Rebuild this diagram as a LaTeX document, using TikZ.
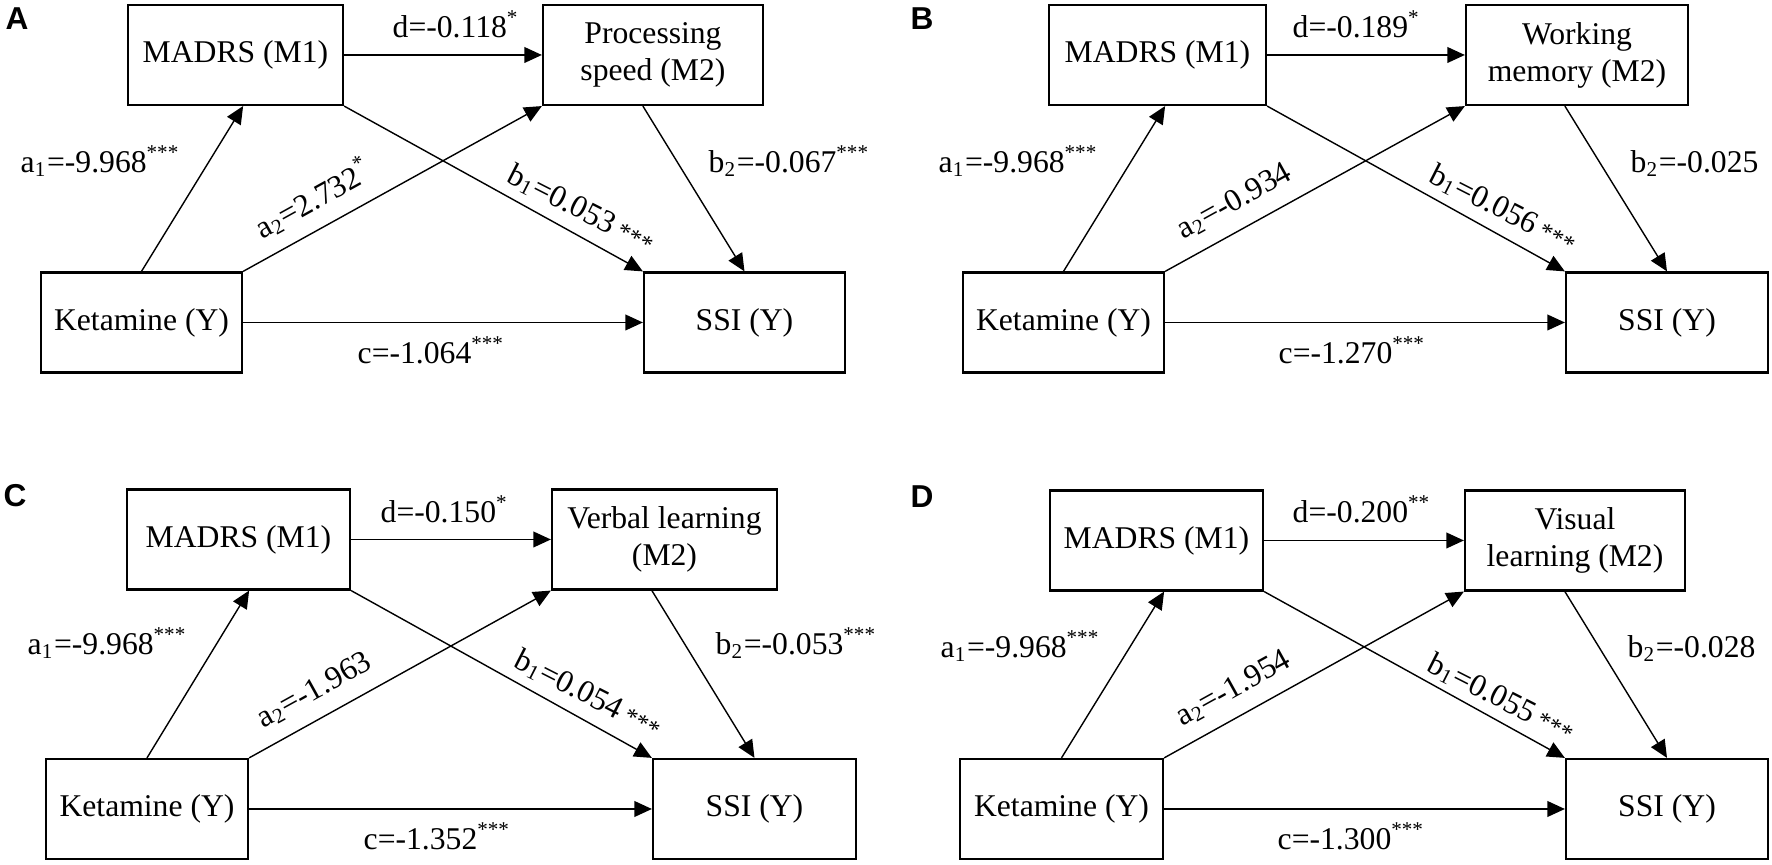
\documentclass[tikz,border=0pt]{standalone}
\usepackage{fontspec}
\setmainfont{Liberation Serif}
\setsansfont{Liberation Sans}
\usetikzlibrary{arrows.meta,calc}

\tikzset{
    box/.style={draw, line width=0.6pt, minimum height=1cm, inner sep=0pt, align=center, font=\fontsize{9}{10.5}\selectfont},
    coef/.style={inner sep=0pt, anchor=base west, font=\fontsize{9}{10.5}\selectfont},
    link/.style={line width=0.4pt, -{Triangle[length=5pt,width=4.5pt]}},
    panel/.style={inner sep=0pt, font=\sffamily\bfseries\fontsize{9}{10}\selectfont}
}

\begin{document}
\begin{tikzpicture}[x=0.01cm, y=-0.01cm]
        \useasboundingbox (0,0) rectangle (1772,865);

        % Panel letters
        \node[panel] (pA) at (17,19) {A};
        \node[panel] (pB) at (922,19) {B};
        \node[panel] (pC) at (15,496) {C};
        \node[panel] (pD) at (922,497) {D};

        % Boxes of panel A
        \node[box, minimum width=2.15cm] (madA) at (235.5,55) {MADRS (M1)};
        \node[box, minimum width=2.20cm] (medA) at (653,55) {Processing\\speed (M2)};
        \node[box, minimum width=2.01cm] (ketA) at (141.5,322.5) {Ketamine (Y)};
        \node[box, minimum width=2.01cm] (ssiA) at (744.5,322.5) {SSI (Y)};

        % Boxes of panel B
        \node[box, minimum width=2.17cm] (madB) at (1157.5,55) {MADRS (M1)};
        \node[box, minimum width=2.22cm] (medB) at (1577,55) {Working\\memory (M2)};
        \node[box, minimum width=2.01cm] (ketB) at (1063.5,322.5) {Ketamine (Y)};
        \node[box, minimum width=2.02cm] (ssiB) at (1667,322.5) {SSI (Y)};

        % Boxes of panel C
        \node[box, minimum width=2.23cm] (madC) at (238.5,539.5) {MADRS (M1)};
        \node[box, minimum width=2.25cm] (medC) at (664.5,539.5) {Verbal learning\\(M2)};
        \node[box, minimum width=2.02cm] (ketC) at (147,809) {Ketamine (Y)};
        \node[box, minimum width=2.03cm] (ssiC) at (754.5,809) {SSI (Y)};

        % Boxes of panel D
        \node[box, minimum width=2.13cm] (madD) at (1156.5,540.5) {MADRS (M1)};
        \node[box, minimum width=2.20cm] (medD) at (1575,540.5) {Visual\\learning (M2)};
        \node[box, minimum width=2.03cm] (ketD) at (1061.5,809) {Ketamine (Y)};
        \node[box, minimum width=2.02cm] (ssiD) at (1667,809) {SSI (Y)};

        % Paths between the boxes
        \foreach \p in {A,B,C,D} {
            \draw[link] (ket\p.north) -- (mad\p.south -| ket\p.east);
            \draw[link] (ket\p.north east) -- (med\p.south west);
            \draw[link] (mad\p.east) -- (med\p.west);
            \draw[link] (mad\p.south east) -- (ssi\p.north west);
            \draw[link] (med\p.south -| ssi\p.west) -- (ssi\p.north);
            \draw[link] (ket\p.east) -- (ssi\p.west);
        }

        % Coefficients of panel A
        \node[coef] (dA) at (392,38) {d=-0.118\textsuperscript{*}};
        \node[coef] (a1A) at (20,173) {a\textsubscript{1}=-9.968\textsuperscript{***}};
        \node[coef, rotate=29] (a2A) at (262,240) {a\textsubscript{2}=2.732\textsuperscript{*}};
        \node[coef, rotate=-27] (b1A) at (505,181) {b\textsubscript{1}=0.053\,{\scriptsize ***}};
        \node[coef] (b2A) at (708,173) {b\textsubscript{2}=-0.067\textsuperscript{***}};
        \node[coef] (cA) at (357,364) {c=-1.064\textsuperscript{***}};

        % Coefficients of panel B
        \node[coef] (dB) at (1292,38) {d=-0.189\textsuperscript{*}};
        \node[coef] (a1B) at (938,173) {a\textsubscript{1}=-9.968\textsuperscript{***}};
        \node[coef, rotate=29] (a2B) at (1183,240) {a\textsubscript{2}=-0.934};
        \node[coef, rotate=-27] (b1B) at (1427,181) {b\textsubscript{1}=0.056\,{\scriptsize ***}};
        \node[coef] (b2B) at (1630,173) {b\textsubscript{2}=-0.025};
        \node[coef] (cB) at (1278,364) {c=-1.270\textsuperscript{***}};

        % Coefficients of panel C
        \node[coef] (dC) at (380,523) {d=-0.150\textsuperscript{*}};
        \node[coef] (a1C) at (27,655) {a\textsubscript{1}=-9.968\textsuperscript{***}};
        \node[coef, rotate=29] (a2C) at (263,729) {a\textsubscript{2}=-1.963};
        \node[coef, rotate=-27] (b1C) at (512,666) {b\textsubscript{1}=0.054\,{\scriptsize ***}};
        \node[coef] (b2C) at (715,655) {b\textsubscript{2}=-0.053\textsuperscript{***}};
        \node[coef] (cC) at (363,850) {c=-1.352\textsuperscript{***}};

        % Coefficients of panel D
        \node[coef] (dD) at (1292,523) {d=-0.200\textsuperscript{**}};
        \node[coef] (a1D) at (940,658) {a\textsubscript{1}=-9.968\textsuperscript{***}};
        \node[coef, rotate=29] (a2D) at (1182,727) {a\textsubscript{2}=-1.954};
        \node[coef, rotate=-27] (b1D) at (1425,670) {b\textsubscript{1}=0.055\,{\scriptsize ***}};
        \node[coef] (b2D) at (1627,658) {b\textsubscript{2}=-0.028};
        \node[coef] (cD) at (1277,850) {c=-1.300\textsuperscript{***}};
\end{tikzpicture}
\end{document}
